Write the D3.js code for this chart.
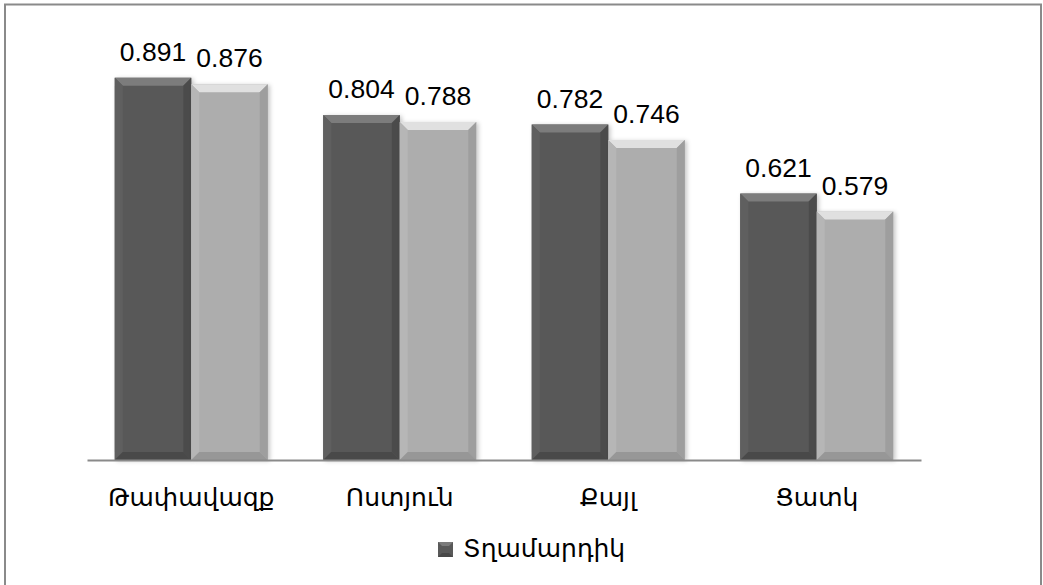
<!DOCTYPE html>
<html>
<head>
<meta charset="utf-8">
<script src="https://cdn.jsdelivr.net/npm/d3@7"></script>
<style>
  html, body { margin: 0; padding: 0; background: #fff; }
  svg { display: block; font-family: "DejaVu Sans", sans-serif; }
</style>
</head>
<body>
<svg id="chart" width="1043" height="585"></svg>
<script>
// Sport disciplines and the index values for the two groups
const categories = ["Թափավազք", "Ոստյուն", "Քայլ", "Ցատկ"];
const seriesNames = ["Տղամարդիկ", "Կանայք"];
const menValues = [0.891, 0.804, 0.782, 0.621];
const womenValues = [0.876, 0.788, 0.746, 0.579];
const legendItems = ["Տղամարդիկ"];

const seriesValues = [menValues, womenValues];

// Face / bevel shades per series
const palettes = [
  { face: "#595959", top: "#7b7b7b", left: "#5f5f5f", right: "#4c4c4c", bottom: "#484848" },
  { face: "#adadad", top: "#e0e0e0", left: "#b6b6b6", right: "#9e9e9e", bottom: "#979797" }
];

const svg = d3.select("#chart");

const defs = svg.append("defs");
const shadow = defs.append("filter").attr("id", "barShadow")
  .attr("x", "-20%").attr("y", "-20%").attr("width", "140%").attr("height", "140%");
shadow.append("feDropShadow")
  .attr("dx", 2).attr("dy", 1).attr("stdDeviation", 2)
  .attr("flood-color", "#000").attr("flood-opacity", 0.22);

// Outer frame
svg.append("rect")
  .attr("x", 5).attr("y", 4.5)
  .attr("width", 1036).attr("height", 600)
  .attr("fill", "none")
  .attr("stroke", "#8a8a8a")
  .attr("stroke-width", 2);

const x0 = d3.scaleBand()
  .domain(categories)
  .range([87, 921])
  .paddingInner(0.266)
  .paddingOuter(0.133);

const x1 = d3.scaleBand()
  .domain(d3.range(seriesNames.length))
  .range([0, x0.bandwidth()])
  .padding(0);

const y = d3.scaleLinear().domain([0, 1]).range([460, 31]);

const bars = [];
categories.forEach((c, i) => {
  seriesValues.forEach((vals, s) => {
    bars.push({ cat: c, s, v: vals[i] });
  });
});

function bevelBar(g, d) {
  const bx = x0(d.cat) + x1(d.s);
  const bw = x1.bandwidth();
  const by = y(d.v);
  const bh = y(0) - by;
  const b = 8;
  const p = palettes[d.s];
  const grp = g.append("g").attr("filter", "url(#barShadow)");
  grp.append("rect").attr("x", bx).attr("y", by).attr("width", bw).attr("height", bh).attr("fill", p.face);
  const poly = (pts, fill) => grp.append("polygon")
    .attr("points", pts.map(q => q.join(",")).join(" "))
    .attr("fill", fill);
  poly([[bx, by], [bx + bw, by], [bx + bw - b, by + b], [bx + b, by + b]], p.top);
  poly([[bx, by], [bx + b, by + b], [bx + b, by + bh - b], [bx, by + bh]], p.left);
  poly([[bx + bw, by], [bx + bw, by + bh], [bx + bw - b, by + bh - b], [bx + bw - b, by + b]], p.right);
  poly([[bx, by + bh], [bx + b, by + bh - b], [bx + bw - b, by + bh - b], [bx + bw, by + bh]], p.bottom);
}

const barLayer = svg.append("g");
bars.forEach(d => bevelBar(barLayer, d));

// Baseline axis
const xAxis = d3.axisBottom(x0).tickSize(0).tickPadding(0);
const axisG = svg.append("g").attr("transform", `translate(0,${y(0)})`).call(xAxis);
axisG.select(".domain").attr("stroke", "#8a8a8a").attr("stroke-width", 2);
axisG.selectAll(".tick text")
  .attr("y", 46)
  .attr("dy", 0)
  .attr("font-size", 25)
  .attr("font-family", "DejaVu Sans, sans-serif")
  .attr("fill", "#000");

// Value labels above the bars
svg.append("g").selectAll("text")
  .data(bars)
  .join("text")
  .attr("x", d => x0(d.cat) + x1(d.s) + x1.bandwidth() / 2)
  .attr("y", d => y(d.v) - 17)
  .attr("text-anchor", "middle")
  .attr("font-family", "Liberation Sans, Arial, sans-serif")
  .attr("font-size", 26.5)
  .attr("fill", "#000")
  .text(d => d3.format(".3f")(d.v));

// Legend
const legend = svg.append("g").attr("transform", "translate(438,542)");
legendItems.forEach((name, i) => {
  const p = palettes[i];
  const s = 15, b = 4;
  legend.append("rect").attr("width", s).attr("height", s).attr("fill", p.face);
  legend.append("polygon").attr("points", `0,0 ${s},0 ${s - b},${b} ${b},${b}`).attr("fill", p.top);
  legend.append("polygon").attr("points", `0,${s} ${b},${s - b} ${s - b},${s - b} ${s},${s}`).attr("fill", p.bottom);
  legend.append("text")
    .attr("x", 25).attr("y", 15)
    .attr("font-size", 25)
    .attr("fill", "#000")
    .text(name);
});
</script>
</body>
</html>
